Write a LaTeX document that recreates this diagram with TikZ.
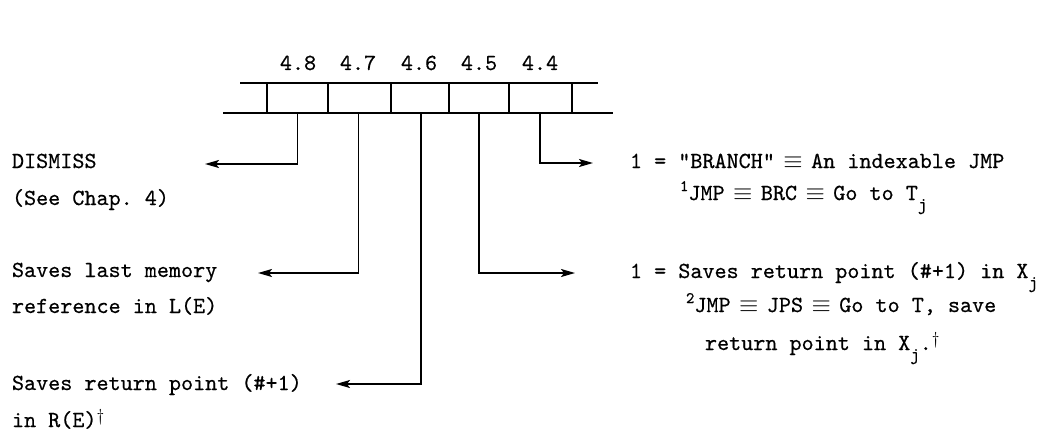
\documentclass[tikz,border=0pt]{standalone}
\usepackage{fontspec}
\setmonofont{lmmono10-regular.otf}[FakeBold=0.5]
\usetikzlibrary{arrows.meta}
\newcommand{\eqv}{\makebox[0.525em]{$\equiv$}}
\newcommand{\sbj}{\raisebox{-10pt}{\fontsize{18}{18}\selectfont j}}
\newcommand{\supr}[1]{\raisebox{9pt}{\fontsize{16}{16}\selectfont #1}}
\newcommand{\mydag}{\raisebox{6pt}{\fontsize{18}{18}\selectfont$\dagger$}}
\begin{document}
\begin{tikzpicture}[x=1pt,y=-1pt,
  every node/.style={font=\ttfamily\fontsize{23}{36}\selectfont, inner sep=0pt, outer sep=0pt},
  txt/.style={anchor=base west},
  lbl/.style={anchor=base},
  cell/.style={minimum width=56pt, minimum height=30pt},
  reg/.style={line width=1.6pt},
  arr/.style={line width=1.6pt, -{Stealth[length=14pt,width=8pt,inset=3pt]}}]
\useasboundingbox (0,0) rectangle (1046,436);
% register
\draw[reg] (240,83) -- (598,83);
\draw[reg] (223,113) -- (613,113);
\foreach \x in {267,328,391,449,509,572} \draw[reg] (\x,83) -- (\x,113);
\node[cell] (c48) at (297.5,98) {};
\node[cell] (c47) at (358.5,98) {};
\node[cell] (c46) at (421,98) {};
\node[cell] (c45) at (479,98) {};
\node[cell] (c44) at (540,98) {};
% bit labels
\node[lbl] (l48) at (298,70) {4.8};
\node[lbl] (l47) at (358,70) {4.7};
\node[lbl] (l46) at (419,70) {4.6};
\node[lbl] (l45) at (479,70) {4.5};
\node[lbl] (l44) at (540,70) {4.4};
% left texts
\node[txt] (d1) at (12,168) {DISMISS};
\node[txt] (d2) at (12,205) {(See Chap. 4)};
\node[txt] (m1) at (12,277) {Saves last memory};
\node[txt] (m2) at (12,313) {reference in L(E)};
\node[txt] (r1) at (12,390) {Saves return point (\#+1)};
\node[txt] (r2) at (12,427) {in R(E)\mydag};
% right texts
\node[txt] (b1) at (630,168) {1 = "BRANCH" \eqv{} An indexable JMP};
\node[txt] (b2) at (680,200) {\supr{1}JMP \eqv{} BRC \eqv{} Go to T\sbj};
\node[txt] (s1) at (630,278) {1 = Saves return point (\#+1) in X\sbj};
\node[txt] (s2) at (686,312) {\supr{2}JMP \eqv{} JPS \eqv{} Go to T, save};
\node[txt] (s3) at (705,350) {return point in X\sbj.\mydag};
% arrow ends
\coordinate (e48) at (205,164);
\coordinate (e47) at (258,273);
\coordinate (e46) at (336,384);
\coordinate (e45) at (575,273);
\coordinate (e44) at (593,163);
\draw[arr] (c48.south) |- (e48);
\draw[arr] (c47.south) |- (e47);
\draw[arr] (c46.south) |- (e46);
\draw[arr] (c45.south) |- (e45);
\draw[arr] (c44.south) |- (e44);
\end{tikzpicture}
\end{document}
